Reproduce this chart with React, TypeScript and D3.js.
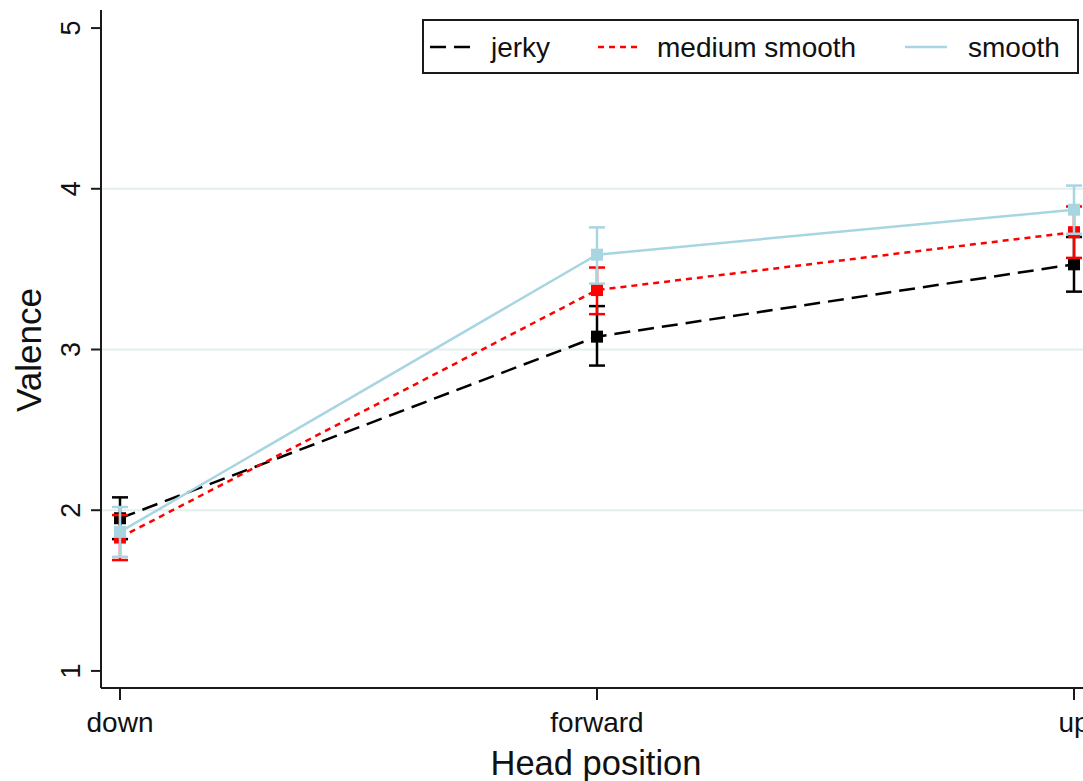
import React from "react";
import * as d3 from "d3";

const categories = ["down", "forward", "up"];
const seriesNames = ["jerky", "medium smooth", "smooth"];
const jerkyMean = [1.95, 3.08, 3.53];
const jerkyLow = [1.82, 2.9, 3.36];
const jerkyHigh = [2.08, 3.27, 3.7];
const mediumMean = [1.83, 3.37, 3.73];
const mediumLow = [1.69, 3.22, 3.57];
const mediumHigh = [1.97, 3.51, 3.89];
const smoothMean = [1.865, 3.59, 3.87];
const smoothLow = [1.71, 3.41, 3.72];
const smoothHigh = [2.02, 3.76, 4.02];
const yTicks = [1, 2, 3, 4, 5];
const gridTicks = [2, 3, 4];

const W = 1083;
const H = 781;
const FONT = "'Liberation Sans', Arial, sans-serif";

export default function App() {
  const x = d3.scalePoint<string>().domain(categories).range([120, 1074]);
  const y = d3.scaleLinear().domain([0.9, 5.1]).range([687, 12]);

  const series = [
    { name: seriesNames[0], mean: jerkyMean, lo: jerkyLow, hi: jerkyHigh, color: "#000000", dash: "16,8" },
    { name: seriesNames[1], mean: mediumMean, lo: mediumLow, hi: mediumHigh, color: "#ff0000", dash: "6,5" },
    { name: seriesNames[2], mean: smoothMean, lo: smoothLow, hi: smoothHigh, color: "#a8d5e2", dash: "none" },
  ];

  const line = d3
    .line<number>()
    .x((_, i) => x(categories[i]) as number)
    .y((d) => y(d));

  const axisX = 101;
  const axisY = 688;

  const legendItems = [
    { lx: 430, tx: 491 },
    { lx: 598, tx: 657 },
    { lx: 905, tx: 968 },
  ];

  return (
    <svg width={W} height={H} style={{ position: "absolute", left: 0, top: 0, background: "#fff" }}>
      <rect x={0} y={0} width={W} height={H} fill="#fff" />
      {gridTicks.map((t) => (
        <line key={t} x1={axisX} x2={W} y1={y(t)} y2={y(t)} stroke="#e3efef" strokeWidth={2} />
      ))}
      {/* axes */}
      <line x1={axisX} x2={axisX} y1={10} y2={axisY} stroke="#1a1a1a" strokeWidth={2} />
      <line x1={axisX} x2={W} y1={axisY} y2={axisY} stroke="#1a1a1a" strokeWidth={2} />
      {yTicks.map((t) => (
        <g key={t}>
          <line x1={axisX - 10} x2={axisX} y1={y(t)} y2={y(t)} stroke="#1a1a1a" strokeWidth={2} />
          <text
            transform={`translate(${80},${y(t)}) rotate(-90)`}
            textAnchor="middle"
            fontFamily={FONT}
            fontSize={27}
            fill="#111"
          >
            {t}
          </text>
        </g>
      ))}
      {categories.map((c) => (
        <g key={c}>
          <line x1={x(c)} x2={x(c)} y1={axisY} y2={axisY + 12} stroke="#1a1a1a" strokeWidth={2} />
          <text x={x(c)} y={732} textAnchor="middle" fontFamily={FONT} fontSize={28} fill="#111">
            {c}
          </text>
        </g>
      ))}
      <text x={596} y={775} textAnchor="middle" fontFamily={FONT} fontSize={34.5} fill="#111">
        Head position
      </text>
      <text
        transform={`translate(${41},${350}) rotate(-90)`}
        textAnchor="middle"
        fontFamily={FONT}
        fontSize={35}
        fill="#111"
      >
        Valence
      </text>
      {/* series */}
      {series.map((s) => (
        <g key={s.name}>
          <path d={line(s.mean) || ""} fill="none" stroke={s.color} strokeWidth={2.5} strokeDasharray={s.dash} />
          {s.mean.map((m, i) => {
            const cx = x(categories[i]) as number;
            return (
              <g key={i}>
                <line x1={cx} x2={cx} y1={y(s.lo[i])} y2={y(s.hi[i])} stroke={s.color} strokeWidth={2.5} />
                <line x1={cx - 8} x2={cx + 8} y1={y(s.lo[i])} y2={y(s.lo[i])} stroke={s.color} strokeWidth={2.5} />
                <line x1={cx - 8} x2={cx + 8} y1={y(s.hi[i])} y2={y(s.hi[i])} stroke={s.color} strokeWidth={2.5} />
                <rect x={cx - 6} y={y(m) - 6} width={12} height={12} fill={s.color} />
              </g>
            );
          })}
        </g>
      ))}
      {/* legend */}
      <rect x={423} y={20} width={655} height={53} fill="#fff" stroke="#1a1a1a" strokeWidth={2} />
      {series.map((s, i) => (
        <g key={s.name}>
          <line
            x1={legendItems[i].lx}
            x2={legendItems[i].lx + 42}
            y1={47}
            y2={47}
            stroke={s.color}
            strokeWidth={2.5}
            strokeDasharray={s.dash}
          />
          <text x={legendItems[i].tx} y={57} fontFamily={FONT} fontSize={28} fill="#111">
            {s.name}
          </text>
        </g>
      ))}
    </svg>
  );
}
